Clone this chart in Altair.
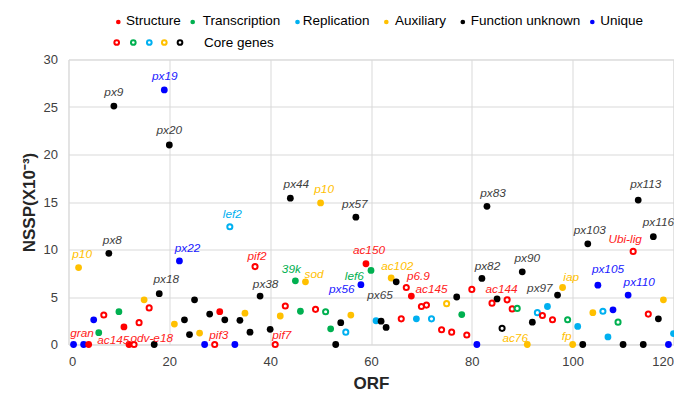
import altair as alt
import pandas as pd

# ---------------- data ----------------
orf = [1, 2, 3, 4, 5, 6, 7, 8, 9, 10, 11, 12, 13, 14, 15, 16, 17, 18, 19, 20,
       21, 22, 23, 24, 25, 26, 27, 28, 29, 30, 31, 32, 33, 34, 35, 36, 37, 38, 40,
       41, 42, 43, 44, 45, 46, 47, 49, 50, 51, 52, 53, 54, 55, 56, 57, 58, 59, 60,
       61, 62, 63, 64, 65, 66, 67, 68, 69, 70, 71, 72, 74, 75, 76, 77, 78, 79, 80,
       81, 82, 83, 84, 85, 86, 87, 88, 89, 90, 91, 92, 93, 94, 95, 96, 97, 98, 99, 100,
       101, 102, 103, 104, 105, 106, 107, 108, 109, 110, 111, 112, 113, 114, 115, 116,
       117, 118, 119, 120]
nssp = [0, 8.1, 0, 0, 2.6, 1.25, 3.1, 9.6, 25.1, 3.45, 1.85, 0, 0, 2.3, 4.7, 3.85, 0, 5.35, 26.8, 21.0,
        2.15, 8.8, 2.6, 1.05, 4.7, 1.2, 0, 3.2, 0, 3.45, 2.6, 12.4, 0, 2.55, 3.3, 1.3, 8.2, 5.1, 1.6,
        0, 3.0, 4.05, 15.4, 6.7, 3.5, 6.6, 3.7, 14.9, 3.45, 1.65, 0, 2.3, 1.3, 3.1, 13.4, 6.3, 8.5, 7.8,
        2.5, 2.45, 1.8, 7.0, 6.6, 2.7, 6.0, 5.1, 2.7, 4.0, 4.15, 2.7, 1.55, 4.3, 1.3, 5.0, 3.15, 1.0, 5.8,
        0, 6.95, 14.55, 4.35, 4.8, 1.7, 4.7, 3.75, 3.8, 7.65, 0, 2.35, 3.35, 3.05, 4.0, 2.6, 5.2, 6.0, 2.6, 0,
        1.9, 0, 10.6, 3.35, 6.25, 3.5, 0.8, 3.65, 2.35, 0, 5.2, 9.8, 15.2, 0, 3.2, 11.35,
        2.7, 4.7, 0, 1.15]
cat_code = ["U", "A", "U", "S", "U", "T", "S", "F", "F", "T", "S", "S", "S", "S", "A", "S", "F", "F", "U", "F",
            "A", "U", "F", "F", "F", "A", "U", "F", "S", "S", "F", "R", "U", "F", "A", "F", "S", "F", "F",
            "S", "A", "S", "F", "T", "T", "A", "S", "A", "T", "T", "F", "F", "R", "A", "F", "U", "S", "T",
            "R", "F", "F", "A", "F", "S", "S", "S", "R", "S", "S", "R", "S", "A", "S", "F", "T", "S", "S",
            "U", "F", "F", "S", "F", "F", "S", "S", "T", "F", "A", "F", "R", "S", "R", "S", "F", "A", "T", "A",
            "R", "F", "F", "A", "U", "R", "R", "U", "T", "F", "U", "S", "F", "F", "S", "F",
            "F", "A", "U", "R"]
core = [0, 0, 0, 0, 0, 0, 1, 0, 0, 0, 0, 0, 1, 1, 0, 1, 0, 0, 0, 0,
        0, 0, 0, 0, 0, 0, 0, 0, 1, 0, 0, 1, 0, 0, 0, 0, 1, 0, 0,
        1, 0, 1, 0, 0, 0, 0, 1, 0, 1, 0, 0, 0, 1, 0, 0, 0, 0, 0,
        0, 0, 0, 0, 0, 1, 1, 0, 0, 1, 1, 1, 1, 1, 1, 0, 0, 1, 1,
        0, 0, 0, 1, 0, 1, 1, 1, 1, 0, 0, 0, 1, 1, 0, 1, 0, 0, 1, 0,
        0, 0, 0, 0, 0, 1, 0, 0, 1, 0, 0, 1, 0, 0, 1, 0,
        0, 0, 0, 0]

# gene name annotations (data coordinates of the label)
lab_text = ["gran", "ac145", "odv-e18", "p10", "px9", "px19", "px20", "px8", "px22", "px18",
            "pif3", "pif7", "lef2", "pif2", "px38", "px44", "p10", "px57", "39k", "sod",
            "ac150", "lef6", "px56", "ac102", "p6.9", "px65", "ac145", "px83", "px113", "px103",
            "px116", "Ubi-lig", "px82", "px90", "iap", "px105", "px110", "px97", "ac144", "ac76", "fp"]
lab_x = [2.7, 8.9, 16.5, 2.7, 9.0, 19.1, 20.0, 8.7, 23.6, 19.4,
         29.8, 42.3, 32.5, 37.4, 39.1, 45.2, 50.7, 56.8, 44.2, 48.7,
         59.6, 56.7, 54.2, 65.2, 69.4, 61.8, 72.0, 84.2, 114.5, 103.4,
         117.0, 110.4, 83.1, 91.0, 99.7, 107.0, 113.2, 93.5, 85.9, 88.6, 98.8]
lab_y = [1.2, 0.5, 0.7, 9.5, 26.6, 28.3, 22.6, 10.95, 10.2, 6.85,
         0.95, 0.95, 13.7, 9.35, 6.4, 16.9, 16.4, 14.8, 8.0, 7.47,
         9.9, 7.26, 5.85, 8.25, 7.2, 5.26, 5.85, 16.0, 16.85, 12.1,
         12.9, 11.1, 8.25, 9.1, 7.1, 7.95, 6.63, 5.93, 5.86, 0.7, 0.87]
lab_code = ["S", "S", "S", "A", "F", "U", "F", "F", "U", "F",
            "S", "S", "R", "S", "F", "F", "A", "F", "T", "A",
            "S", "T", "U", "A", "S", "F", "S", "F", "F", "F",
            "F", "S", "F", "F", "A", "U", "U", "F", "S", "A", "A"]

categories = ["Structure", "Transcription", "Replication", "Auxiliary", "Function unknown", "Unique"]
codes = ["S", "T", "R", "A", "F", "U"]
point_colors = ["#FF0000", "#00B050", "#00B0F0", "#FFC000", "#000000", "#0000FF"]
label_colors = ["#FF2020", "#00B050", "#00B0F0", "#FFC000", "#404040", "#2020FF"]

name_of = dict(zip(codes, categories))

df = pd.DataFrame({
    "ORF": orf,
    "NSSP": nssp,
    "category": [name_of[c] for c in cat_code],
    "core": core,
})
lab_df = pd.DataFrame({
    "text": lab_text,
    "x": lab_x,
    "y": lab_y,
    "category": [name_of[c] for c in lab_code],
})

FONT = "Liberation Sans"

xscale = alt.Scale(domain=[0, 120], nice=False)
yscale = alt.Scale(domain=[0, 30], nice=False)

xaxis = alt.Axis(values=[0, 20, 40, 60, 80, 100, 120], grid=True, gridColor="#d9d9d9",
                 domain=False, ticks=False, labelFont=FONT, labelFontSize=13,
                 labelColor="#404040", labelPadding=11, title="ORF", titleFont=FONT,
                 titleFontSize=17, titleFontWeight="bold", titleColor="#262626",
                 titlePadding=7)
yaxis = alt.Axis(values=[0, 5, 10, 15, 20, 25, 30], grid=True, gridColor="#d9d9d9",
                 domain=False, ticks=False, labelFont=FONT, labelFontSize=13,
                 labelColor="#404040", labelPadding=11, title="NSSP(X10⁻³)",
                 titleFont=FONT, titleFontSize=17, titleFontWeight="bold",
                 titleColor="#262626", titlePadding=5)

pcolor = alt.Color("category:N", scale=alt.Scale(domain=categories, range=point_colors), legend=None)

base = alt.Chart(df)
filled = base.transform_filter("datum.core == 0").mark_circle(size=46, opacity=1).encode(
    x=alt.X("ORF:Q", scale=xscale, axis=xaxis),
    y=alt.Y("NSSP:Q", scale=yscale, axis=yaxis),
    color=pcolor,
)
opened = base.transform_filter("datum.core == 1").mark_point(
    size=26, filled=False, fill="white", fillOpacity=1, strokeWidth=2, opacity=1
).encode(
    x=alt.X("ORF:Q", scale=xscale),
    y=alt.Y("NSSP:Q", scale=yscale),
    color=pcolor,
)
labels = alt.Chart(lab_df).mark_text(font=FONT, fontSize=11.8, fontStyle="italic",
                                      align="center", baseline="middle").encode(
    x=alt.X("x:Q", scale=xscale),
    y=alt.Y("y:Q", scale=yscale),
    text=alt.Text("text:N"),
    color=alt.Color("category:N", scale=alt.Scale(domain=categories, range=label_colors), legend=None),
)

# ---------------- manual legend ----------------
one = pd.DataFrame({"a": [0]})
legend_layers = []
row1_y = -38.5
row2_y = -17
dot_x = [49.8, 124.2, 229.0, 317.8, 394.3, 523.8]
txt_x = [57.5, 134.2, 234.2, 326.6, 402.3, 531.8]
for name, col, dx, tx in zip(categories, point_colors, dot_x, txt_x):
    legend_layers.append(alt.Chart(one).mark_circle(size=22, color=col, opacity=1).encode(
        x=alt.value(dx), y=alt.value(row1_y + 1)))
    legend_layers.append(alt.Chart(one).mark_text(text=name, font=FONT, fontSize=13.5, align="left",
                                                  baseline="middle", color="#000000").encode(
        x=alt.value(tx), y=alt.value(row1_y)))
open_x = [48.2, 64.8, 80.8, 95.8, 111.5]
for col, ox in zip(point_colors[:5], open_x):
    legend_layers.append(alt.Chart(one).mark_point(size=22, filled=False, strokeWidth=2, color=col,
                                                   opacity=1).encode(
        x=alt.value(ox), y=alt.value(row2_y)))
legend_layers.append(alt.Chart(one).mark_text(text="Core genes", font=FONT, fontSize=13.5, align="left",
                                              baseline="middle", color="#000000").encode(
    x=alt.value(135.5), y=alt.value(row2_y)))

chart = alt.layer(filled, opened, labels, *legend_layers).resolve_scale(
    color="independent"
).properties(
    width=605, height=285,
    autosize=alt.AutoSizeParams(type="none"),
    padding={"left": 60.5, "top": 51.5, "right": 0.5, "bottom": 47.5},
).configure_view(strokeWidth=0).configure(background="white")

chart.save("out.html", embed_options={"renderer": "svg", "actions": False})
